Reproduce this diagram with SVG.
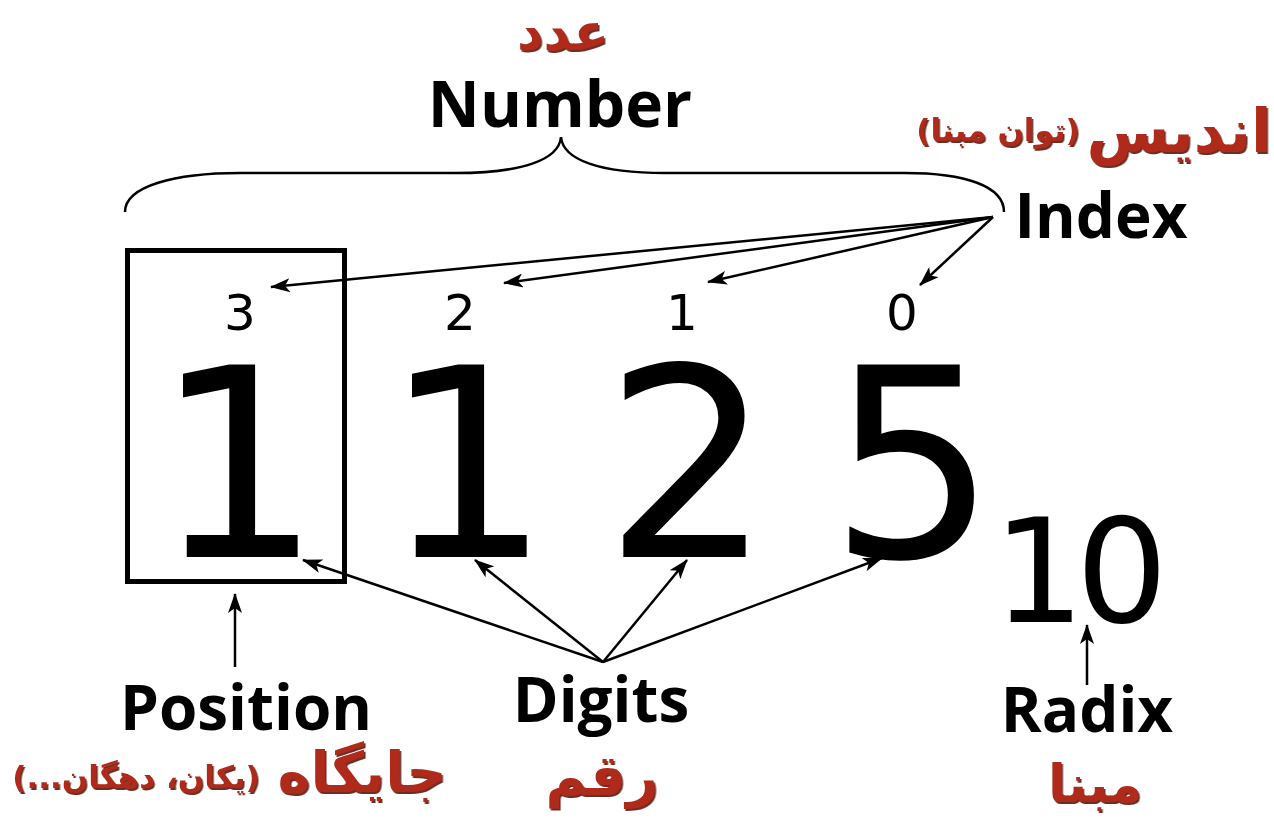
<svg xmlns="http://www.w3.org/2000/svg" width="1274" height="821" viewBox="0 0 1274 821">
<defs>
<marker id="ah" viewBox="0 0 20 14" refX="19" refY="7" markerWidth="20" markerHeight="14" markerUnits="userSpaceOnUse" orient="auto">
<path d="M0,0 L20,7 L0,14 L5,7 Z" fill="#000"/>
</marker>
<filter id="sh" x="-10%" y="-10%" width="120%" height="130%">
<feDropShadow dx="1.5" dy="2" stdDeviation="0.6" flood-color="#5a140c" flood-opacity="0.9"/>
</filter>
<style>
.lbl{font-family:"Open Sans","Noto Sans",sans-serif;font-weight:700;fill:#000;text-anchor:middle}
.dig{font-family:"DejaVu Sans",sans-serif;fill:#000;text-anchor:middle}
.fa{font-family:"DejaVu Sans",sans-serif;font-weight:700;fill:#b02a1a;direction:rtl;text-anchor:middle;filter:url(#sh)}
.ln{stroke:#000;stroke-width:2.5;fill:none;marker-end:url(#ah)}
</style>
</defs>
<rect width="1274" height="821" fill="#fff"/>

<g id="number">
<text class="fa" x="563" y="50" font-size="52">عدد</text>
<text class="lbl" x="560" y="127" font-size="64">Number</text>
<path d="M125,212 C125,186 175,173 240,173 L455,173 C522,173 559,160 561,137 C563,160 600,173 665,173 L905,173 C965,173 1004,186 1004,212" fill="none" stroke="#000" stroke-width="2.5"/>
</g>

<g id="index">
<text class="fa" x="1179" y="152" font-size="60">اندیس</text>
<text class="fa" x="998" y="141" font-size="31">(توان مبنا)</text>
<text class="lbl" x="1101" y="238" font-size="62">Index</text>
</g>

<g id="indices">
<text class="dig" x="240 460 682 902" y="330" font-size="50">3210</text>
</g>

<g id="digits-big">
<rect x="127.5" y="250.5" width="217" height="331" fill="none" stroke="#000" stroke-width="5"/>
<text class="dig" x="238 467 688 913" y="557" font-size="264">1125</text>
</g>

<g id="radix-num">
<text class="dig" x="1039 1122" y="622" font-size="145">10</text>
</g>

<g id="position">
<text class="lbl" x="246" y="730" font-size="62">Position</text>
<text class="fa" x="362" y="792" font-size="56">جایگاه</text>
<text class="fa" x="136" y="788" font-size="31">(یکان، دهگان...)</text>
</g>

<g id="digits">
<text class="lbl" x="601" y="722" font-size="62">Digits</text>
<text class="fa" x="602" y="795" font-size="56">رقم</text>
</g>

<g id="radix">
<text class="lbl" x="1087" y="732" font-size="62">Radix</text>
<text class="fa" x="1095" y="802" font-size="52">مبنا</text>
</g>

<g id="connectors">
<line class="ln" x1="993" y1="217" x2="271" y2="287"/>
<line class="ln" x1="993" y1="217" x2="504" y2="283"/>
<line class="ln" x1="993" y1="217" x2="708" y2="282"/>
<line class="ln" x1="993" y1="217" x2="920" y2="285"/>
<line class="ln" x1="603" y1="662" x2="303" y2="560"/>
<line class="ln" x1="603" y1="662" x2="475" y2="560"/>
<line class="ln" x1="603" y1="662" x2="687" y2="560"/>
<line class="ln" x1="603" y1="662" x2="882" y2="558"/>
<line class="ln" x1="235" y1="667" x2="235" y2="594"/>
<line class="ln" x1="1087" y1="685" x2="1087" y2="625"/>
</g>
</svg>
